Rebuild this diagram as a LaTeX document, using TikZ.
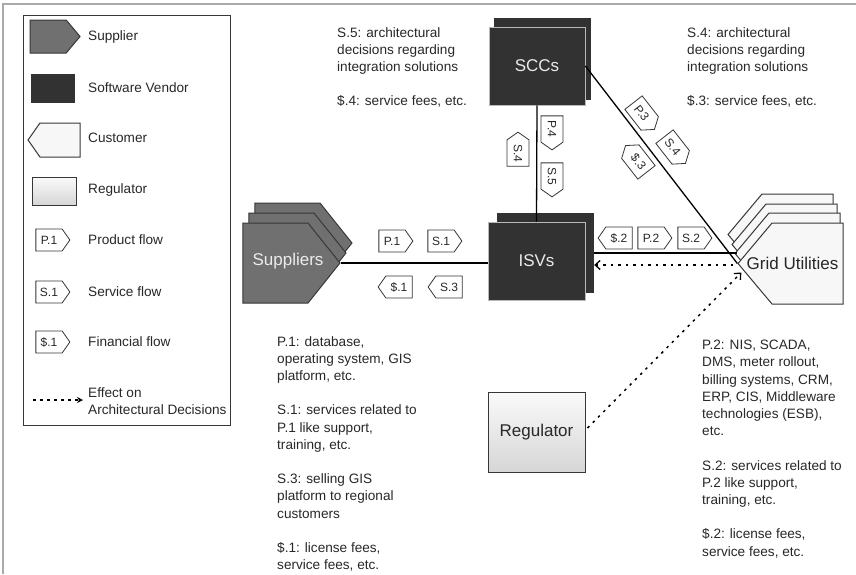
\documentclass[tikz,border=0pt]{standalone}
\usepackage{fontspec}
\setmainfont{Liberation Sans}
\usetikzlibrary{shapes.symbols,arrows.meta}
\definecolor{txt}{RGB}{40,40,40}
\definecolor{edge}{RGB}{55,55,55}
\definecolor{supfill}{RGB}{112,112,112}
\definecolor{vendfill}{RGB}{50,50,50}
\definecolor{custfill}{RGB}{247,247,247}
\definecolor{framec}{RGB}{170,170,170}
\tikzset{
  lbl/.style={font=\fontsize{13.6}{17.2}\selectfont, text=txt, inner sep=0pt},
  para/.style={lbl, align=left, anchor=north west},
  big/.style={font=\fontsize{17}{20}\selectfont, inner sep=0pt},
  tag/.style={signal, signal to=east, draw=edge, fill=white, line width=0.8pt,
    minimum width=34pt, minimum height=22pt, inner sep=1pt, signal pointer angle=110,
    font=\fontsize{12}{12}\selectfont, text=txt},
  rtag/.style={tag, signal to=west},
  supplier/.style={signal, signal to=east, draw=edge, fill=supfill, line width=1pt, inner sep=0pt},
  customer/.style={signal, signal to=west, draw=edge, fill=custfill, line width=1pt, inner sep=0pt},
  vendor/.style={rectangle, fill=vendfill, inner sep=0pt},
  regbox/.style={rectangle, draw=edge, line width=1pt, top color=gray!4, bottom color=gray!32, inner sep=0pt},
  conn/.style={line width=1.3pt, draw=black},
  effect/.style={line width=1.5pt, dash pattern=on 2.5pt off 5pt, -{Straight Barb[length=5pt,width=9pt,line width=1.3pt]}},
}
\begin{document}
\begin{tikzpicture}[x=1pt,y=-1pt]
\useasboundingbox (0,0) rectangle (856,574);
\fill[white] (0,0) rectangle (856,574);
\draw[framec, line width=1.5pt] (3,574) -- (3,4) -- (856,4);

% ---------- legend ----------
\node[draw=edge, line width=0.8pt, rectangle, minimum width=207pt, minimum height=410pt, inner sep=0pt] (legend) at (126.5,220) {};
\node[supplier, minimum width=50pt, minimum height=33pt, signal pointer angle=100] (lsup) at (48.1,36.5) {};
\node[lbl, anchor=west] (lsupt) at (88,37) {Supplier};
\node[vendor, minimum width=44pt, minimum height=29pt] (lven) at (53,88.5) {};
\node[lbl, anchor=west] (lvent) at (88,88) {Software Vendor};
\node[customer, minimum width=52pt, minimum height=34pt, signal pointer angle=110] (lcus) at (60,140) {};
\node[lbl, anchor=west] (lcust) at (88,138) {Customer};
\node[regbox, minimum width=44pt, minimum height=28pt] (lreg) at (54,191) {};
\node[lbl, anchor=west] (lregt) at (88,190) {Regulator};
\node[tag] (lp) at (49,240) {P.1};
\node[lbl, anchor=west] (lpt) at (88,240) {Product flow};
\node[tag] (ls) at (49,292) {S.1};
\node[lbl, anchor=west] (lst) at (88,292) {Service flow};
\node[tag] (lf) at (49,342) {\$.1};
\node[lbl, anchor=west] (lft) at (88,342) {Financial flow};
\coordinate (la1) at (33,400);
\coordinate (la2) at (83,400);
\draw[line width=1.3pt, dash pattern=on 3pt off 4pt, -{Stealth[length=6pt,width=6pt]}] (la1) -- (la2);
\node[lbl, align=left, anchor=west] (lat) at (88,401) {Effect on\\Architectural Decisions};

% ---------- main shapes ----------
% Suppliers
\node[supplier, minimum width=97pt, minimum height=80pt, signal pointer angle=102.7] (sup3) at (287.5,243) {};
\node[supplier, minimum width=97pt, minimum height=80pt, signal pointer angle=102.7] (sup2) at (281.5,253) {};
\node[supplier, minimum width=97pt, minimum height=80pt, signal pointer angle=102.7] (sup) at (275.5,263) {};
\node[big, text=white!92!black] (suplbl) at (288,261) {Suppliers};

% ISVs
\node[vendor, minimum width=97pt, minimum height=80pt] (isvb) at (545.5,253) {};
\node[vendor, draw=gray!55, line width=0.8pt, minimum width=97pt, minimum height=78pt, big, text=white!92!black] (isv) at (536.5,261) {ISVs};

% SCCs
\node[vendor, minimum width=97pt, minimum height=82pt] (sccb) at (542.5,59) {};
\node[vendor, draw=gray!55, line width=0.8pt, minimum width=96pt, minimum height=78pt, big, text=white!92!black] (scc) at (537,66) {SCCs};

% Regulator
\node[regbox, minimum width=97pt, minimum height=80pt, big, text=txt] (reg) at (536.5,432) {Regulator};

% Grid Utilities
\node[customer, minimum width=105pt, minimum height=81pt, signal pointer angle=100] (grid4) at (797.5,234.5) {};
\node[customer, minimum width=105pt, minimum height=81pt, signal pointer angle=100] (grid3) at (801.5,244.5) {};
\node[customer, minimum width=105pt, minimum height=81pt, signal pointer angle=100] (grid2) at (804.5,253.5) {};
\node[customer, minimum width=105pt, minimum height=81pt, signal pointer angle=100] (grid) at (807.5,263.5) {};
\node[big, text=black!85] (gridlbl) at (792.5,263) {Grid Utilities};

% ---------- connectors ----------
\draw[conn] (sup.east) -- (sup.east -| isv.west);
\draw[conn] (scc.south) -- (isv.north);
\draw[conn] (scc.east) -- (grid.west);
\draw[conn] (isvb.east) -- (isvb.east -| grid.west);
\coordinate (d1) at ([yshift=-12pt]isvb.east);
\coordinate (d2) at ([xshift=-3pt]d1 -| grid.west);
\draw[effect, {Straight Barb[length=5pt,width=9pt,line width=1.3pt]}-] (d1) -- (d2);
\coordinate (d3) at ([xshift=2pt,yshift=4pt]reg.east);
\coordinate (d4) at ([xshift=4pt,yshift=-9pt]grid.west);
\draw[effect] (d3) -- (d4);

% ---------- flow tags ----------
\node[tag] (tp1) at (392,241) {P.1};
\node[tag] (ts1) at (441,241) {S.1};
\node[rtag] (tf1) at (399,287) {\$.1};
\node[rtag] (ts3) at (449,287) {S.3};

\node[rtag] (tf2) at (619,238) {\$.2};
\node[tag] (tp2) at (651,238) {P.2};
\node[tag] (ts2) at (691,238) {S.2};

\node[rtag, rotate=-90] (ts4v) at (518,153) {S.4};
\node[tag, rotate=-90] (tp4) at (552,129) {P.4};
\node[tag, rotate=-90] (ts5) at (552,176) {S.5};

\node[tag, rotate=-52] (tp3) at (641.6,113) {P.3};
\node[tag, rotate=-52] (ts4d) at (672.6,147) {S.4};
\node[rtag, rotate=-52] (ts3d) at (638.4,162) {\$.3};

% ---------- descriptions ----------
\node[para] (ds5) at (337,27) {S.5: architectural\\decisions regarding\\integration solutions\\[17.2pt]\$.4: service fees, etc.};
\node[para] (ds4) at (687,27) {S.4: architectural\\decisions regarding\\integration solutions\\[17.2pt]\$.3: service fees, etc.};
\node[para] (dp1) at (277,336) {P.1: database,\\operating system, GIS\\platform, etc.\\[17.2pt]S.1: services related to\\P.1 like support,\\training, etc.\\[17.2pt]S.3: selling GIS\\platform to regional\\customers\\[17.2pt]\$.1: license fees,\\service fees, etc.};
\node[para] (dp2) at (702,340) {P.2: NIS, SCADA,\\DMS, meter rollout,\\billing systems, CRM,\\ERP, CIS, Middleware\\technologies (ESB),\\etc.\\[17.2pt]S.2: services related to\\P.2 like support,\\training, etc.\\[17.2pt]\$.2: license fees,\\service fees, etc.};
\end{tikzpicture}
\end{document}
